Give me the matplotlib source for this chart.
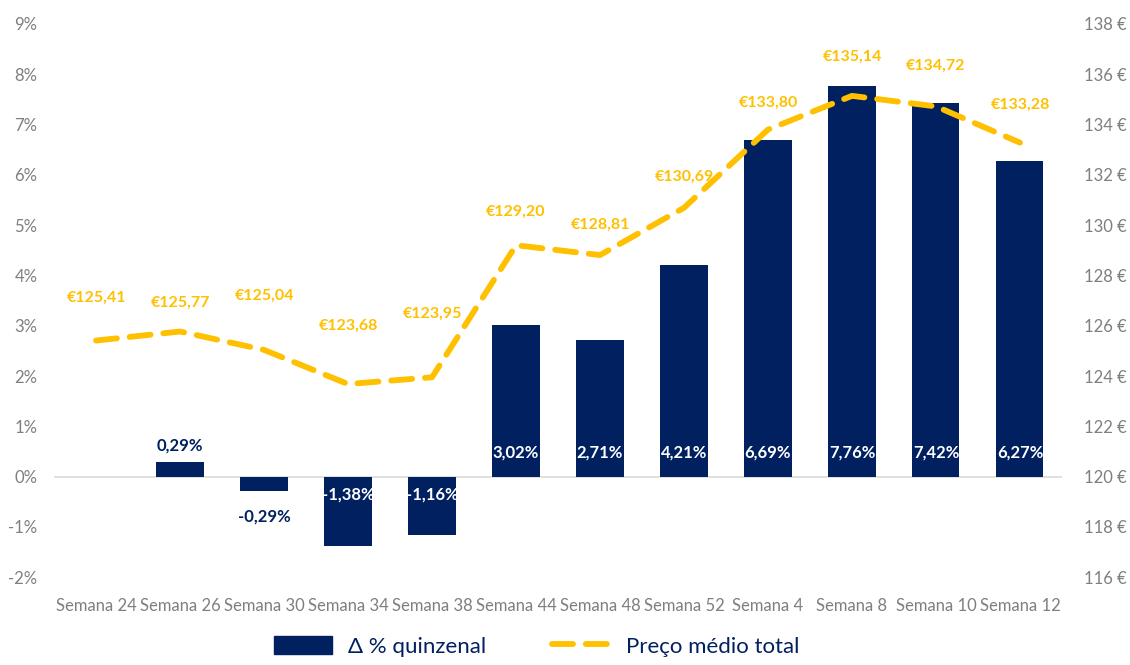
#=========================================================================
# plot.py -- variacao quinzenal e preco medio total
#=========================================================================

import matplotlib.pyplot as plt
import numpy as np
from matplotlib.patches import Patch
from matplotlib.lines import Line2D

semanas = ['Semana 24', 'Semana 26', 'Semana 30', 'Semana 34', 'Semana 38',
           'Semana 44', 'Semana 48', 'Semana 52', 'Semana 4', 'Semana 8',
           'Semana 10', 'Semana 12']
delta_pct = [np.nan, 0.29, -0.29, -1.38, -1.16, 3.02, 2.71, 4.21, 6.69,
             7.76, 7.42, 6.27]
preco = [125.41, 125.77, 125.04, 123.68, 123.95, 129.20, 128.81, 130.69,
         133.80, 135.14, 134.72, 133.28]

pct_ticks = [-2, -1, 0, 1, 2, 3, 4, 5, 6, 7, 8, 9]
eur_ticks = [116, 118, 120, 122, 124, 126, 128, 130, 132, 134, 136, 138]

NAVY = '#002060'
GOLD = '#FFC000'
GREY = '#7F7F7F'

plt.rcParams['font.family'] = ['Lato', 'DejaVu Sans']
plt.rcParams['font.size'] = 12

fig = plt.figure(figsize=(11.3, 6.65), dpi=100)
ax = fig.add_axes([0.0478, 0.132, 0.892, 0.832])
ax2 = ax.twinx()

x = np.arange(len(semanas))

# bars
ax.bar(x, delta_pct, width=0.56, color=NAVY, zorder=2)
ax.axhline(0, color='#D9D9D9', lw=1.2, zorder=1)

ax.set_xlim(-0.5, len(semanas) - 0.5)
ax.set_ylim(-2, 9)
ax.set_yticks(pct_ticks)
ax.set_yticklabels(['%d%%' % t for t in pct_ticks])
ax.set_xticks(x)
ax.set_xticklabels(semanas)

# line
ax2.plot(x, preco, color=GOLD, lw=4.2, dashes=(3.6, 2.2),
         dash_capstyle='round', solid_joinstyle='round', zorder=3)
ax2.set_ylim(116, 138)
ax2.set_yticks(eur_ticks)
ax2.set_yticklabels(['%d \u20ac' % t for t in eur_ticks])

for a in (ax, ax2):
    for s in a.spines.values():
        s.set_visible(False)
    a.tick_params(length=0, colors=GREY, labelsize=12)
ax.tick_params(axis='x', pad=15)
ax.tick_params(axis='y', pad=12)
ax2.tick_params(axis='y', pad=16)

def fmt(v):
    return ('%.2f' % v).replace('.', ',')

# bar labels
for xi, v in zip(x, delta_pct):
    if np.isnan(v):
        continue
    if v >= 1:
        ax.annotate(fmt(v) + '%', (xi, 0), xytext=(0, 17), textcoords='offset points',
                    ha='center', va='center', color='white', fontweight='bold',
                    fontsize=12, zorder=4)
    elif v > 0:
        ax.annotate(fmt(v) + '%', (xi, v), xytext=(0, 12), textcoords='offset points',
                    ha='center', va='center', color=NAVY, fontweight='bold',
                    fontsize=12, zorder=4)
    elif v > -1:
        ax.annotate(fmt(v) + '%', (xi, v), xytext=(0, -18), textcoords='offset points',
                    ha='center', va='center', color=NAVY, fontweight='bold',
                    fontsize=12, zorder=4)
    else:
        ax.annotate(fmt(v) + '%', (xi, 0), xytext=(0, -13), textcoords='offset points',
                    ha='center', va='center', color='white', fontweight='bold',
                    fontsize=12, zorder=4)

# line labels (offsets in points above each point)
lab_off = [31, 21, 39, 42, 46, 24, 22, 22, 19, 28, 29, 27]
for xi, v, off in zip(x, preco, lab_off):
    ax2.annotate('\u20ac' + fmt(v), (xi, v), xytext=(0, off), textcoords='offset points',
                 ha='center', va='center', color=GOLD, fontweight='bold',
                 fontsize=11.5, zorder=5)

# legend
handles = [Patch(color=NAVY),
           Line2D([], [], color=GOLD, lw=4.2, dashes=(3.6, 2.2), dash_capstyle='round')]
fig.legend(handles, ['\u0394 % quinzenal', 'Pre\u00e7o m\u00e9dio total'],
           loc='center', bbox_to_anchor=(0.475, 0.028), ncol=2, frameon=False,
           fontsize=16, handlelength=2.6, handleheight=0.9, handletextpad=0.7,
           columnspacing=3.0, labelcolor=NAVY)

fig.savefig('out.png', dpi=100)
